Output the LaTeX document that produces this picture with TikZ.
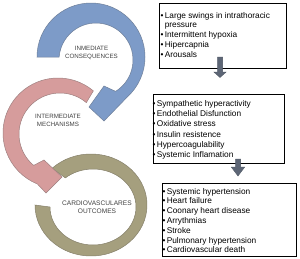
\documentclass[tikz,border=0pt]{standalone}
\usepackage{fontspec}
\setmainfont{Liberation Sans}
\usetikzlibrary{calc}
\definecolor{blueA}{HTML}{7D9BC8}
\definecolor{blueL}{HTML}{6E7F99}
\definecolor{pinkA}{HTML}{D69C9C}
\definecolor{pinkL}{HTML}{9E8080}
\definecolor{oliveA}{HTML}{A59F7E}
\definecolor{oliveL}{HTML}{85806A}
\definecolor{lblgrey}{HTML}{404040}
\definecolor{arrowgrey}{HTML}{5D6676}
\begin{document}
\begin{tikzpicture}[x=1pt,y=-1pt,
  ring/.style={line width=0.5pt},
  ringlbl/.style={align=center, text=lblgrey, inner sep=0pt, font=\fontsize{6.2}{7.8}\selectfont},
  listbox/.style={draw=black, line width=0.8pt, anchor=north west, inner sep=0pt},
  listtxt/.style={anchor=base west, inner sep=0pt, font=\fontsize{8.3}{9.8}\selectfont},
  garrow/.style={fill=arrowgrey, draw=arrowgrey!80!black, line width=0.3pt}]
\useasboundingbox (0,0) rectangle (300,258);

% olive ring
\coordinate (oO) at (91,205);
\coordinate (oI) at (93,207);
\filldraw[ring, fill=oliveA, draw=oliveL]
  ($(oO)+(226:56 and 51)$) arc[start angle=226, end angle=540, x radius=56, y radius=51]
  -- ($(oI)+(180:43 and 38)$) arc[start angle=180, end angle=-130, x radius=43, y radius=38] -- cycle;

% pink arrow
\coordinate (pO) at (58,133);
\coordinate (pI) at (60,134);
\coordinate (pLow) at (46,193);
\coordinate (pTip) at (62,177);
\coordinate (pUp) at (44,160);
\filldraw[ring, fill=pinkA, draw=pinkL]
  ($(pO)+(-50:55)$) arc[start angle=-50, end angle=-248, radius=55]
  -- (pLow) -- (pTip) -- (pUp)
  -- ($(pI)+(130:41)$) arc[start angle=-230, end angle=-50, radius=41] -- cycle;

% blue arrow
\coordinate (bO) at (91,57);
\coordinate (bI) at (96,60);
\coordinate (bLow) at (104,121);
\coordinate (bTip) at (89,107);
\coordinate (bUp) at (104,86);
\filldraw[ring, fill=blueA, draw=blueL]
  ($(bO)+(180:54)$) arc[start angle=180, end angle=408, radius=54]
  -- (bLow) -- (bTip) -- (bUp)
  -- ($(bI)+(58:37)$) arc[start angle=418, end angle=184.65, radius=37] -- cycle;

% ring labels
\node[ringlbl] (l1) at (91.5,53) {INMEDIATE\\CONSEQUENCES};
\node[ringlbl] (l2) at (58,120.5) {INTERMEDIATE\\MECHANISMS};
\node[ringlbl, font=\fontsize{6.6}{8.4}\selectfont] (l3) at (97,207.5) {CARDIOVASCULARES\\OUTCOMES};

% boxes
\node[listbox, minimum width=127pt, minimum height=65pt] (b1) at (159,3) {};
\node[listbox, minimum width=131pt, minimum height=69pt] (b2) at (153,94) {};
\node[listbox, minimum width=134pt, minimum height=73pt] (b3) at (162,183) {};

\node[listtxt] (t1) at (160.5,18) {\begin{tabular}[t]{@{}l@{\hspace{1.2pt}}l@{}}
\textbullet & Large swings in intrathoracic\\
 & pressure\\
\textbullet & Intermittent hypoxia\\
\textbullet & Hipercapnia\\
\textbullet & Arousals
\end{tabular}};

\node[listtxt, font=\fontsize{8.3}{10.2}\selectfont] (t2) at (152.5,106.5) {\begin{tabular}[t]{@{}l@{\hspace{1.2pt}}l@{}}
\textbullet & Sympathetic hyperactivity\\
\textbullet & Endothelial Disfunction\\
\textbullet & Oxidative stress\\
\textbullet & Insulin resistence\\
\textbullet & Hypercoagulability\\
\textbullet & Systemic Inflamation
\end{tabular}};

\node[listtxt] (t3) at (162.5,194) {\begin{tabular}[t]{@{}l@{\hspace{1.2pt}}l@{}}
\textbullet & Systemic hypertension\\
\textbullet & Heart failure\\
\textbullet & Coonary heart disease\\
\textbullet & Arrythmias\\
\textbullet & Stroke\\
\textbullet & Pulmonary hypertension\\
\textbullet & Cardiovascular death
\end{tabular}};

% grey block arrows between boxes
\coordinate (a1) at (220,57);
\coordinate (a2) at (238,159);
\filldraw[garrow] (a1) ++(-2.6,0) -- ++(0,15) -- ++(-3.6,0) -- ++(6.2,5.5) -- ++(6.2,-5.5) -- ++(-3.6,0) -- ++(0,-15) -- cycle;
\filldraw[garrow] (a2) ++(-2.6,0) -- ++(0,8) -- ++(-4.2,0) -- ++(6.8,9) -- ++(6.8,-9) -- ++(-4.2,0) -- ++(0,-8) -- cycle;
\end{tikzpicture}
\end{document}
